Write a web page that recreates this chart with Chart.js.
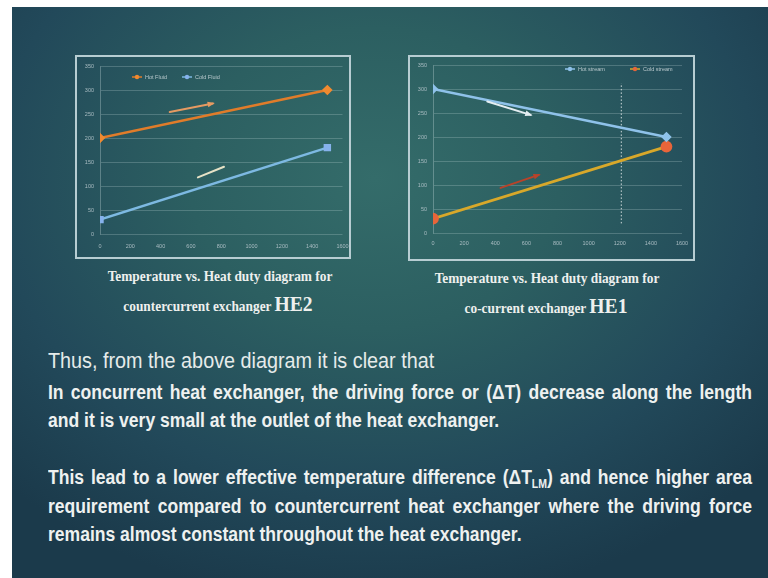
<!DOCTYPE html>
<html>
<head>
<meta charset="utf-8">
<script src="https://cdn.jsdelivr.net/npm/chart.js"></script>
<style>
  html, body { margin: 0; padding: 0; background: #ffffff; }
  body { width: 768px; height: 578px; position: relative; overflow: hidden; }
  .slide {
    position: absolute; left: 12px; top: 7px; width: 756px; height: 571px;
    background: radial-gradient(ellipse 70% 75% at 48% 30%, #346c6a 0%, #2c5f61 35%, #22495a 72%, #1b3a4b 100%);
  }
  .box { position: absolute; border: 2px solid #b7cdd2; }
  .box canvas { display: block; }
  .cap {
    position: absolute; color: #eef0ee; font-family: "Liberation Serif", "Times New Roman", serif;
    font-weight: bold; font-size: 15px; white-space: nowrap; text-align: center;
    transform: scaleX(0.89); transform-origin: center;
  }
  .cap .big { font-size: 22px; }
  .txt {
    position: absolute; left: 48px; color: #eef1f0;
    font-family: "Liberation Sans", Arial, sans-serif;
    font-size: 20px; font-weight: bold; white-space: nowrap; line-height: 22px;
    transform-origin: 0 0;
  }
  .j { text-align: justify; text-align-last: justify; }
  .thin { font-weight: normal; font-size: 22px; color: #e6ebea; }
  sub { font-size: 12px; vertical-align: -4px; line-height: 0; }
</style>
</head>
<body>
<div class="slide"></div>

<div class="box" style="left:75px; top:55px;"><canvas id="he2" width="272" height="200"></canvas></div>
<div class="box" style="left:408px; top:55px;"><canvas id="he1" width="283" height="202"></canvas></div>

<div class="cap" style="left:70px; width:300px; top:268px;">Temperature vs. Heat duty diagram for</div>
<div class="cap" style="left:68px; width:300px; top:291px;">countercurrent exchanger <span class="big">HE2</span></div>
<div class="cap" style="left:397px; width:300px; top:270px;">Temperature vs. Heat duty diagram for</div>
<div class="cap" style="left:396px; width:300px; top:293px;">co-current exchanger <span class="big">HE1</span></div>

<div class="txt thin" id="thus" style="top:350px;">Thus, from the above diagram it is clear that</div>
<div class="txt j bold" style="top:381px;">In concurrent heat exchanger, the driving force or (&Delta;T) decrease along the length</div>
<div class="txt bold" id="l3" style="top:409px;">and it is very small at the outlet of the heat exchanger.</div>
<div class="txt j bold" style="top:466px;">This lead to a lower effective temperature difference (&Delta;T<sub>LM</sub>) and hence higher area</div>
<div class="txt j bold" style="top:495px;">requirement compared to countercurrent heat exchanger where the driving force</div>
<div class="txt bold" id="l6" style="top:523px;">remains almost constant throughout the heat exchanger.</div>

<script>
// heat duty (x) and temperatures (y)
const heatDuty = [0, 1500];
const he2Hot = [200, 300];
const he2Cold = [30, 180];
const he1Hot = [300, 200];
const he1Cold = [30, 180];
const cutLineX = [1210, 1210];
const cutLineY = [20, 312];

// hand drawn arrows on the slide, in data units: [x1, y1, x2, y2]
const he2Arrows = [[460, 254, 745, 272], [646, 118, 818, 140]];
const he1Arrows = [[349, 274, 627, 246], [434, 94, 680, 121]];

// squeeze the text to the narrow face used on the slide
const w3 = document.getElementById("l3").offsetWidth;
const w6 = document.getElementById("l6").offsetWidth;
const sq = (450 / w3 + 475 / w6) / 2;
document.querySelectorAll(".bold").forEach(el => {
  el.style.transform = "scaleX(" + sq + ")";
  if (el.classList.contains("j")) el.style.width = (704 / sq) + "px";
});
const th = document.getElementById("thus");
th.style.transform = "scaleX(" + (386 / th.offsetWidth) + ")";

const pts = (xs, ys) => xs.map((x, i) => ({ x: x, y: ys[i] }));

const tickFont = { size: 5.5, family: "Liberation Sans" };
const tickColor = "#a9bcc2";

const inlineLegend = {
  id: "inlineLegend",
  afterDraw(chart, args, opts) {
    const ctx = chart.ctx;
    ctx.save();
    ctx.font = "5.5px Liberation Sans";
    ctx.textBaseline = "middle";
    chart.data.datasets.forEach((ds, i) => {
      if (!ds.label) return;
      const x = opts.x[i];
      const y = opts.y;
      ctx.strokeStyle = ds.borderColor;
      ctx.lineWidth = 1.5;
      ctx.beginPath();
      ctx.moveTo(x, y);
      ctx.lineTo(x + 10, y);
      ctx.stroke();
      ctx.fillStyle = ds.pointBackgroundColor;
      ctx.beginPath();
      ctx.arc(x + 5, y, 2.2, 0, Math.PI * 2);
      ctx.fill();
      ctx.fillStyle = "#b8c8cc";
      ctx.fillText(ds.label, x + 13, y);
    });
    ctx.restore();
  }
};

const arrowPlugin = {
  id: "arrows",
  afterDatasetsDraw(chart, args, opts) {
    const xs = chart.scales.x, ys = chart.scales.y, ctx = chart.ctx;
    ctx.save();
    opts.list.forEach((a, i) => {
      const x1 = xs.getPixelForValue(a[0]), y1 = ys.getPixelForValue(a[1]);
      const x2 = xs.getPixelForValue(a[2]), y2 = ys.getPixelForValue(a[3]);
      ctx.strokeStyle = opts.colors[i];
      ctx.fillStyle = opts.colors[i];
      ctx.lineWidth = 2;
      ctx.lineCap = "round";
      ctx.beginPath();
      ctx.moveTo(x1, y1);
      ctx.lineTo(x2, y2);
      ctx.stroke();
      if (opts.heads[i]) {
        const ang = Math.atan2(y2 - y1, x2 - x1);
        ctx.beginPath();
        ctx.moveTo(x2 + 2 * Math.cos(ang), y2 + 2 * Math.sin(ang));
        ctx.lineTo(x2 - 6 * Math.cos(ang - 0.5), y2 - 6 * Math.sin(ang - 0.5));
        ctx.lineTo(x2 - 6 * Math.cos(ang + 0.5), y2 - 6 * Math.sin(ang + 0.5));
        ctx.closePath();
        ctx.fill();
      }
    });
    ctx.restore();
  }
};

function scales(xh, xpad) {
  return {
    x: {
      type: "linear", min: 0, max: 1600,
      ticks: { stepSize: 200, color: tickColor, font: tickFont, padding: xpad, maxRotation: 0,
               callback: v => String(v) },
      grid: { display: false, drawTicks: false },
      border: { display: false },
      afterFit(s) { s.height = xh; s.paddingLeft = 0; s.paddingRight = 0; }
    },
    y: {
      min: 0, max: 350,
      ticks: { stepSize: 50, color: tickColor, font: tickFont, padding: 6 },
      grid: { color: "rgba(220,235,235,0.22)", lineWidth: 1, drawTicks: false },
      border: { display: true, color: "rgba(220,235,235,0.3)" },
      afterFit(s) { s.width = 23; s.paddingTop = 0; s.paddingBottom = 0; }
    }
  };
}

new Chart(document.getElementById("he2"), {
  type: "scatter",
  data: {
    datasets: [
      {
        label: "Hot Fluid",
        data: pts(heatDuty, he2Hot),
        showLine: true,
        borderColor: "#e07c2a",
        borderWidth: 2.5,
        pointBackgroundColor: "#f08a30",
        pointBorderColor: "#f08a30",
        pointStyle: "rectRot",
        pointRadius: 3.5
      },
      {
        label: "Cold Fluid",
        data: pts(heatDuty, he2Cold),
        showLine: true,
        borderColor: "#7db9e2",
        borderWidth: 2.5,
        pointBackgroundColor: "#86b2ec",
        pointBorderColor: "#86b2ec",
        pointStyle: "rect",
        pointRadius: 3.5
      }
    ]
  },
  options: {
    responsive: false,
    animation: false,
    layout: { padding: { left: 0, top: 9, right: 4, bottom: 0 } },
    scales: scales(23, 9),
    plugins: {
      legend: { display: false },
      tooltip: { enabled: false },
      inlineLegend: { x: [55, 105], y: 20 },
      arrows: { list: he2Arrows, colors: ["#e59a62", "#e6e2c6"], heads: [true, false] }
    }
  },
  plugins: [inlineLegend, arrowPlugin]
});

new Chart(document.getElementById("he1"), {
  type: "scatter",
  data: {
    datasets: [
      {
        label: "Hot stream",
        data: pts(heatDuty, he1Hot),
        showLine: true,
        borderColor: "#8fc2ea",
        borderWidth: 2.5,
        pointBackgroundColor: "#8fc2ea",
        pointBorderColor: "#8fc2ea",
        pointStyle: "rectRot",
        pointRadius: 3.5
      },
      {
        label: "Cold stream",
        data: pts(heatDuty, he1Cold),
        showLine: true,
        borderColor: "#d8a82a",
        borderWidth: 2.8,
        pointBackgroundColor: "#e8653a",
        pointBorderColor: "#e8653a",
        pointRadius: 4.5
      },
      {
        label: "",
        data: pts(cutLineX, cutLineY),
        showLine: true,
        borderColor: "rgba(235,240,240,0.85)",
        borderWidth: 1,
        borderDash: [1.5, 2],
        pointRadius: 0
      }
    ]
  },
  options: {
    responsive: false,
    animation: false,
    layout: { padding: { left: 0, top: 8, right: 11, bottom: 0 } },
    scales: scales(26, 7),
    plugins: {
      legend: { display: false },
      tooltip: { enabled: false },
      inlineLegend: { x: [155, 220], y: 12 },
      arrows: { list: he1Arrows, colors: ["#e4eef2", "#b8432a"], heads: [true, true] }
    }
  },
  plugins: [inlineLegend, arrowPlugin]
});
</script>
</body>
</html>
